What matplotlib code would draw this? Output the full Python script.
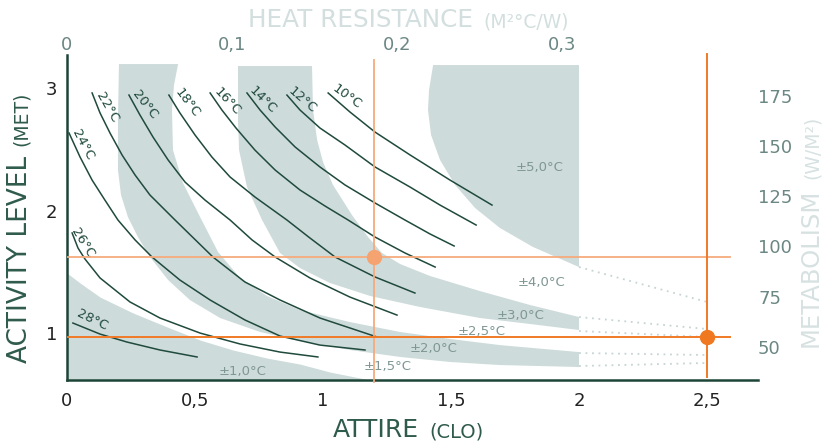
import matplotlib
matplotlib.use("Agg")
import matplotlib.pyplot as plt

# ---- iso-temperature curves (clothing in clo, activity in met) ----
t10_x = [1.020, 1.105, 1.203, 1.340, 1.496, 1.660]
t10_y = [2.962, 2.807, 2.643, 2.456, 2.251, 2.047]
t12_x = [0.859, 0.910, 0.988, 1.086, 1.203, 1.340, 1.457, 1.598]
t12_y = [2.945, 2.823, 2.676, 2.537, 2.358, 2.194, 2.047, 1.884]
t14_x = [0.703, 0.754, 0.813, 0.891, 0.988, 1.086, 1.203, 1.320, 1.418, 1.512]
t14_y = [2.962, 2.823, 2.684, 2.521, 2.358, 2.211, 2.064, 1.925, 1.811, 1.713]
t16_x = [0.559, 0.605, 0.660, 0.734, 0.813, 0.910, 1.008, 1.098, 1.203, 1.320, 1.438]
t16_y = [2.962, 2.823, 2.676, 2.496, 2.333, 2.170, 2.039, 1.925, 1.786, 1.656, 1.541]
t18_x = [0.398, 0.441, 0.500, 0.566, 0.637, 0.734, 0.859, 0.949, 1.047, 1.203, 1.359]
t18_y = [2.945, 2.799, 2.619, 2.439, 2.276, 2.113, 1.925, 1.778, 1.623, 1.460, 1.329]
t20_x = [0.242, 0.285, 0.336, 0.395, 0.461, 0.539, 0.637, 0.723, 0.813, 0.949, 1.105, 1.289]
t20_y = [2.945, 2.782, 2.602, 2.415, 2.235, 2.088, 1.925, 1.762, 1.623, 1.452, 1.296, 1.149]
t22_x = [0.098, 0.129, 0.168, 0.215, 0.266, 0.324, 0.422, 0.570, 0.695, 0.832, 0.988, 1.211]
t22_y = [2.962, 2.799, 2.635, 2.456, 2.292, 2.129, 1.925, 1.623, 1.419, 1.272, 1.125, 0.970]
t24_x = [0.008, 0.051, 0.098, 0.148, 0.199, 0.266, 0.332, 0.441, 0.559, 0.695, 0.832, 0.988, 1.164]
t24_y = [2.635, 2.439, 2.251, 2.088, 1.925, 1.762, 1.623, 1.435, 1.272, 1.109, 0.978, 0.904, 0.864]
t26_x = [0.020, 0.043, 0.070, 0.129, 0.246, 0.363, 0.520, 0.676, 0.832, 0.980]
t26_y = [1.819, 1.696, 1.607, 1.452, 1.256, 1.125, 1.002, 0.913, 0.847, 0.807]
t28_x = [0.023, 0.129, 0.234, 0.363, 0.508]
t28_y = [1.084, 0.994, 0.929, 0.864, 0.807]

curve_labels = ["10°C", "12°C", "14°C", "16°C", "18°C", "20°C", "22°C", "24°C", "26°C", "28°C"]
curve_lab_x = [1.094, 0.918, 0.766, 0.625, 0.469, 0.305, 0.156, 0.063, 0.063, 0.098]
curve_lab_y = [2.929, 2.904, 2.904, 2.888, 2.880, 2.864, 2.847, 2.537, 1.737, 1.109]
curve_lab_rot = [-36, -41, -45, -47, -53, -52, -60, -62, -58, -26]

# ---- tolerance band boundaries ----
b1_x = [0.0, 0.051, 0.129, 0.258, 0.391, 0.520, 0.648, 0.781, 0.910, 1.027, 1.164]
b1_y = [1.492, 1.411, 1.296, 1.166, 1.052, 0.945, 0.864, 0.798, 0.749, 0.684, 0.627]
b2_x = [0.203, 0.199, 0.199, 0.211, 0.238, 0.277, 0.324, 0.395, 0.480, 0.598, 0.754, 0.910,
        1.105, 1.301, 1.496, 1.691, 2.0]
b2_y = [3.198, 2.741, 2.333, 2.129, 1.949, 1.786, 1.623, 1.435, 1.272, 1.125, 1.011, 0.937,
        0.864, 0.807, 0.766, 0.741, 0.725]
b3_x = [0.434, 0.418, 0.410, 0.414, 0.453, 0.520, 0.590, 0.676, 0.781, 0.910, 1.105, 1.301,
        1.496, 1.691, 2.0]
b3_y = [3.198, 3.027, 2.823, 2.496, 2.227, 1.949, 1.664, 1.452, 1.305, 1.190, 1.092, 1.011,
        0.954, 0.904, 0.847]
b4_x = [0.668, 0.668, 0.672, 0.703, 0.762, 0.832, 0.910, 1.027, 1.184, 1.379, 1.613, 1.809, 2.0]
b4_y = [3.182, 2.741, 2.496, 2.194, 1.925, 1.656, 1.533, 1.411, 1.305, 1.215, 1.125, 1.076, 1.027]
b5_x = [0.957, 0.961, 0.977, 1.000, 1.039, 1.113, 1.176, 1.230, 1.301, 1.418, 1.613, 1.809, 2.0]
b5_y = [3.182, 2.823, 2.578, 2.398, 2.211, 1.966, 1.786, 1.656, 1.566, 1.468, 1.345, 1.231, 1.133]
b6_x = [1.430, 1.414, 1.410, 1.422, 1.457, 1.516, 1.594, 1.691, 1.820, 2.0]
b6_y = [3.190, 2.986, 2.823, 2.619, 2.415, 2.211, 2.023, 1.860, 1.705, 1.541]
band_top = 3.19

# dotted continuation of the boundaries from 2 to 2.5 clo
ext_x = [2.0, 2.5]
ext_b2 = [0.733, 0.758]
ext_b3 = [0.839, 0.823]
ext_b4 = [1.019, 0.970]
ext_b5 = [1.133, 1.035]
ext_b6 = [1.541, 1.256]

band_labels = ["±1,0°C", "±1,5°C", "±2,0°C", "±2,5°C", "±3,0°C", "±4,0°C", "±5,0°C"]
band_lab_x = [0.684, 1.254, 1.430, 1.621, 1.770, 1.852, 1.844]
band_lab_y = [0.692, 0.729, 0.880, 1.011, 1.149, 1.411, 2.350]

# ---- highlighted cases ----
light_clo, light_met = 1.2, 1.62
dark_clo, dark_met = 2.5, 0.97

x_ticks = [0, 0.5, 1, 1.5, 2, 2.5]
x_ticklabels = ["0", "0,5", "1", "1,5", "2", "2,5"]
y_ticks = [1, 2, 3]
r_ticks = [0, 0.1, 0.2, 0.3]
r_ticklabels = ["0", "0,1", "0,2", "0,3"]
w_ticks = [50, 75, 100, 125, 150, 175]

BAND = "#cedbdb"
LINE = "#1f4a3c"
SPINE = "#1d4536"
LABEL = "#2f5b4c"
PALE = "#d3dfdf"
MUTED = "#6b8783"
LIGHT_OR = "#f6aa7c"
DARK_OR = "#f07a26"

W, H = 825, 441
fig = plt.figure(figsize=(W / 100, H / 100), dpi=100)
ax = fig.add_axes([67 / W, 1 - 380 / H, 691 / W, 325 / H])
ax.set_xlim(0, 2.699)
ax.set_ylim(0.619, 3.272)

# bands
ax.fill_between(b1_x, b1_y, 0.619, color=BAND, lw=0, zorder=1)
ax.fill(b3_x + b2_x[::-1], b3_y + b2_y[::-1], color=BAND, lw=0, zorder=1)
ax.fill(b5_x + b4_x[::-1], b5_y + b4_y[::-1], color=BAND, lw=0, zorder=1)
ax.fill(b6_x + [2.0], b6_y + [band_top], color=BAND, lw=0, zorder=1)
for ey in (ext_b2, ext_b3, ext_b4, ext_b5, ext_b6):
    ax.plot(ext_x, ey, color="#c6d4d4", lw=1.3, ls=(0, (1, 2.6)), zorder=1)

for lab, lx, ly in zip(band_labels, band_lab_x, band_lab_y):
    ax.text(lx, ly, lab, fontsize=9.5, color="#7f9794", ha="center", va="center", zorder=2)

curves = [(t10_x, t10_y), (t12_x, t12_y), (t14_x, t14_y), (t16_x, t16_y), (t18_x, t18_y),
          (t20_x, t20_y), (t22_x, t22_y), (t24_x, t24_y), (t26_x, t26_y), (t28_x, t28_y)]
for cx, cy in curves:
    ax.plot(cx, cy, color=LINE, lw=1.1, zorder=3)
for lab, lx, ly, rot in zip(curve_labels, curve_lab_x, curve_lab_y, curve_lab_rot):
    ax.text(lx, ly, lab, fontsize=9.5, color=LINE, rotation=rot, rotation_mode="anchor",
            ha="center", va="center", zorder=3)

# highlighted cases
ax.plot([0, 2.59], [light_met, light_met], color=LIGHT_OR, lw=1.3, zorder=4)
ax.plot([light_clo, light_clo], [0.603, 3.231], color=LIGHT_OR, lw=1.3, zorder=4, clip_on=False)
ax.plot([0, 2.59], [dark_met, dark_met], color=DARK_OR, lw=1.4, zorder=4)
ax.plot([dark_clo, dark_clo], [0.643, 3.280], color=DARK_OR, lw=1.4, zorder=4, clip_on=False)
ax.plot(light_clo, light_met, "o", ms=10, color="#f5a370", zorder=5, clip_on=False)
ax.plot(dark_clo, dark_met, "o", ms=10, color="#f07820", zorder=5, clip_on=False)

# axes styling
for s in ("top", "right"):
    ax.spines[s].set_visible(False)
for s in ("left", "bottom"):
    ax.spines[s].set_color(SPINE)
    ax.spines[s].set_linewidth(1.8)
ax.set_xticks(x_ticks, x_ticklabels)
ax.set_yticks(y_ticks, [str(v) for v in y_ticks])
ax.tick_params(axis="x", length=0, pad=9, labelsize=13, labelcolor="#222222")
ax.tick_params(axis="y", length=0, pad=7, labelsize=13, labelcolor="#222222")

top = ax.secondary_xaxis("top", functions=(lambda c: c * 0.155, lambda r: r / 0.155))
top.set_xticks(r_ticks, r_ticklabels)
top.tick_params(length=0, pad=0.5, labelsize=13, labelcolor=MUTED)
right = ax.secondary_yaxis("right", functions=(lambda m: m * 60.9 - 4.1, lambda w: (w + 4.1) / 60.9))
right.set_yticks(w_ticks, [str(v) for v in w_ticks])
right.tick_params(length=0, pad=0, labelsize=13, labelcolor=MUTED)
for sec in (top, right):
    for s in sec.spines.values():
        s.set_visible(False)


def two_part(px, py, big, small, color, rot, big_size=18, small_size=13.5, gap=10):
    """axis title with a smaller caps unit part, placed by pixel position"""
    t1 = fig.text(px / W, 1 - py / H, big, fontsize=big_size, color=color, rotation=rot,
                  rotation_mode="anchor", ha="left", va="baseline")
    bb = t1.get_window_extent(renderer=fig.canvas.get_renderer())
    if rot == 0:
        x2, y2 = (bb.x1 + gap) / W, 1 - py / H
    else:
        x2, y2 = px / W, (bb.y1 + gap) / H
    fig.text(x2, y2, small, fontsize=small_size, color=color, rotation=rot,
             rotation_mode="anchor", ha="left", va="baseline")


two_part(333, 437, "ATTIRE", "(CLO)", LABEL, 0, small_size=14)
two_part(248, 27, "HEAT RESISTANCE", "(M²°C/W)", PALE, 0, big_size=17.8)
two_part(27, 363, "ACTIVITY LEVEL", "(MET)", LABEL, 90, big_size=19)
two_part(818, 347, "METABOLISM", "(W/M²)", "#d7e1e1", 90, big_size=17.5)

fig.savefig("out.png", dpi=100)
